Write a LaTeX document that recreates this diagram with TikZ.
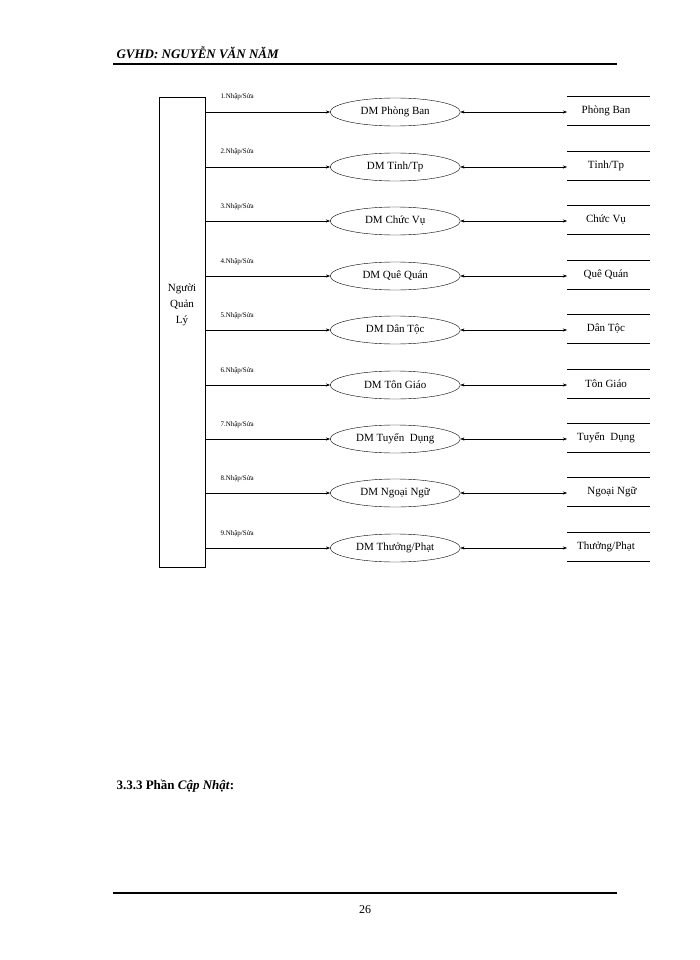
\documentclass[tikz,border=0pt]{standalone}
\usepackage{fontspec}
\setmainfont{Liberation Serif}
\usetikzlibrary{shapes.geometric,arrows.meta}
\begin{document}
\begin{tikzpicture}[x=1pt,y=-1pt,
  proc/.style={ellipse,draw,minimum width=130pt,minimum height=28pt,inner sep=1pt,font=\fontsize{11}{12}\selectfont},
  flow/.style={-{Stealth[length=4pt,width=3pt]}},
  bflow/.style={{Stealth[length=4pt,width=3pt]}-{Stealth[length=4pt,width=3pt]}},
  lbl/.style={font=\fontsize{7}{8}\selectfont,anchor=base west},
  store/.style={font=\fontsize{11}{12}\selectfont}]
\useasboundingbox[fill=white] (0,0) rectangle (700,960);
\node[anchor=base west,font=\bfseries\itshape\fontsize{13}{15}\selectfont] (hdr) at (113,59) {GVHD: NGUYỄN VĂN NĂM};
\draw[line width=2.2pt] (113,64) coordinate (h1) -- (617,64) coordinate (h2);
\node[draw,minimum width=46pt,minimum height=470pt,anchor=north west] (user) at (159,97) {};
\node[font=\fontsize{11}{16}\selectfont,align=center] (ul) at (182,305) {Người\\Quản\\Lý};
\foreach \i/\y/\p/\s in {1/110/{DM Phòng Ban}/{Phòng Ban},2/165/{DM Tỉnh/Tp}/{Tỉnh/Tp},3/219/{DM Chức Vụ}/{Chức Vụ},4/274/{DM Quê Quán}/{Quê Quán},5/328/{DM Dân Tộc}/{Dân Tộc},6/383/{DM Tôn Giáo}/{Tôn Giáo},7/437/{DM Tuyển~ Dụng}/{Tuyển~ Dụng},8/491/{DM Ngoại Ngữ}/{\hspace*{12pt}Ngoại Ngữ},9/546/{DM Thưởng/Phạt}/{Thưởng/Phạt}}{
  \node[proc,anchor=west] (p\i) at (330,\y+2) {\p};
  \coordinate (s\i) at (567,\y);
  \draw (567,\y-14) -- (650,\y-14);
  \draw (567,\y+15) -- (650,\y+15);
  \node[store] (t\i) at (606,\y+1) {\s};
  \draw[flow] (user.east|-p\i.west) -- (p\i.west);
  \draw[bflow] (p\i.east) -- (s\i|-p\i.east);
  \node[lbl] (l\i) at (217,\y-11) {\i.Nhập/Sửa};
}
\node[anchor=base west,font=\bfseries\fontsize{13}{15}\selectfont] (sec) at (113,789) {3.3.3 Phần \textit{Cập Nhật}:};
\draw[line width=2.2pt] (113,893) coordinate (f1) -- (617,893) coordinate (f2);
\node[font=\fontsize{12}{14}\selectfont] (pg) at (365,910) {26};
\end{tikzpicture}
\end{document}
